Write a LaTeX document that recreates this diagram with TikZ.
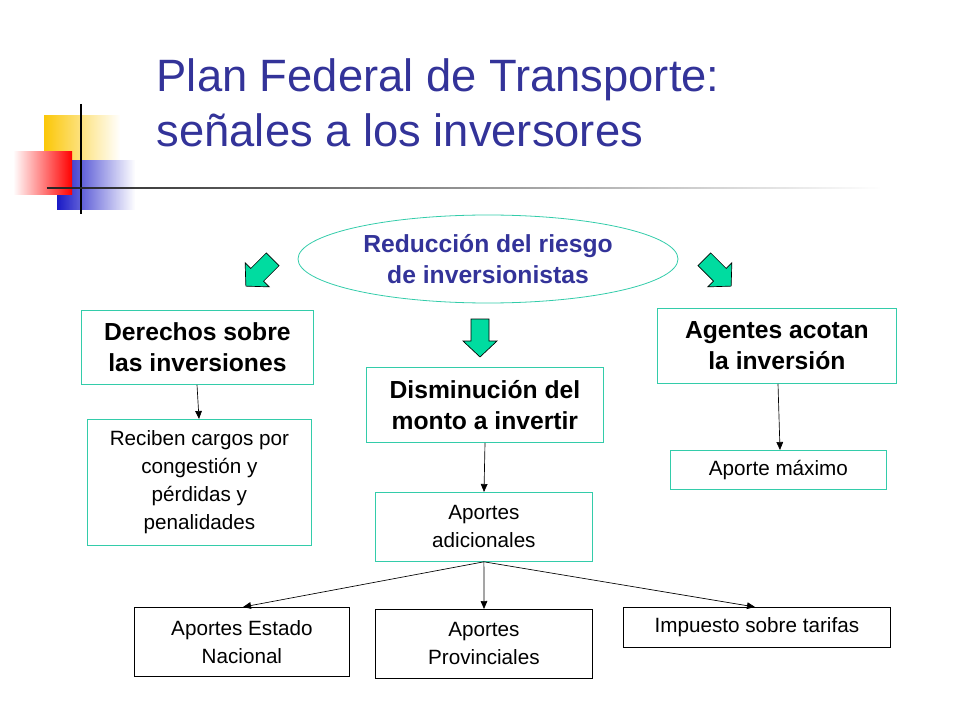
\documentclass[tikz,border=0pt]{standalone}
\usepackage{fontspec}
\setmainfont{Liberation Sans}
\usetikzlibrary{arrows.meta,shapes.geometric,fadings}
\definecolor{teal}{RGB}{51,204,170}
\definecolor{navy}{RGB}{51,51,153}
\definecolor{grn}{RGB}{0,220,160}
\tikzset{
 box/.style={draw=teal,line width=0.6pt,align=center,inner sep=0pt,anchor=north west},
 conn/.style={-{Triangle[length=6pt,width=5pt]},line width=0.5pt},
 garrow/.pic={\draw[fill=grn,line width=0.5pt] (-9,-18)--(9,-18)--(9,4)--(17,4)--(0,20)--(-17,4)--(-9,4)--cycle;}
}
\begin{document}
\begin{tikzpicture}[x=0.75pt,y=-0.75pt]
\useasboundingbox (0,0) rectangle (960,720);
% decoration
\fill[yellow!60!orange, path fading=east] (44,115) rectangle (120,160);
\fill[blue!75!black!90, path fading=east] (57,160) rectangle (135,210);
\shade[left color=white,right color=red] (13,152) rectangle (72,195);
\draw[line width=1.5pt] (81,104)--(81,214);
\draw[line width=1.5pt,black!85, path fading=east] (47,188)--(880,188);
% title
\node[anchor=base west,text=navy,font=\fontsize{34}{38}\selectfont] (t1) at (152,92) {Plan Federal de Transporte:};
\node[anchor=base west,text=navy,font=\fontsize{34}{38}\selectfont] (t2) at (152,147) {señales a los inversores};
% ellipse
\node[draw=teal,ellipse,line width=0.6pt,minimum width=380*0.75pt,minimum height=88*0.75pt,text=navy,font=\bfseries\fontsize{18.5}{23}\selectfont,align=center] (e) at (488,259) {Reducción del riesgo\\de inversionistas};
% green arrows
\pic at (260,272) [rotate=-45] {garrow};
\pic at (480,337) {garrow};
\pic at (717,272) [rotate=45] {garrow};
% boxes
\tikzset{bg/.style={box,font=\bfseries\fontsize{18.5}{23}\selectfont}}
\node[bg,minimum width=232*0.75pt,minimum height=74*0.75pt] (d) at (81,310) {Derechos sobre\\las inversiones};
\node[bg,minimum width=237*0.75pt,minimum height=75*0.75pt] (m) at (366,367) {Disminución del\\monto a invertir};
\node[bg,minimum width=239*0.75pt,minimum height=75*0.75pt] (g) at (657,308) {Agentes acotan\\la inversión};
\tikzset{sm/.style={box,font=\fontsize{15.5}{21}\selectfont}}
\node[sm,minimum width=224*0.75pt,minimum height=126*0.75pt] (r) at (87,419) {Reciben cargos por\\congestión y\\pérdidas y\\penalidades};
\node[sm,minimum width=216*0.75pt,minimum height=39*0.75pt] (am) at (670,450) {Aporte máximo};
\node[sm,minimum width=217*0.75pt,minimum height=69*0.75pt] (aa) at (375,492) {Aportes\\adicionales};
\node[sm,draw=black,minimum width=215*0.75pt,minimum height=69*0.75pt] (en) at (134,607) {Aportes Estado\\Nacional};
\node[sm,draw=black,minimum width=217*0.75pt,minimum height=69*0.75pt] (ap) at (375,609) {Aportes\\Provinciales};
\node[sm,draw=black,minimum width=267*0.75pt,minimum height=40*0.75pt] (it) at (623,607) {Impuesto sobre tarifas};
% connectors
\draw[conn] (d.south -| 197,0) -- (r.north -| 199,0);
\draw[conn] (m.south -| 485,0) -- (aa.north -| 484,0);
\draw[conn] (g.south -| 778,0) -- (am.north -| 780,0);
\draw[conn] (aa.south) -- (en.north -| 243,0);
\draw[conn] (aa.south) -- (ap.north -| 484,0);
\draw[conn] (aa.south) -- (it.north -| 755,0);
\end{tikzpicture}
\end{document}
